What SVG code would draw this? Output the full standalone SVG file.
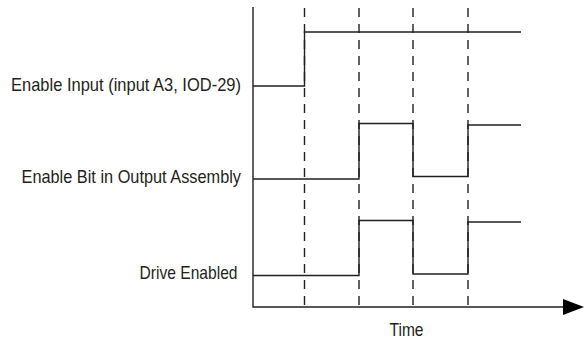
<svg xmlns="http://www.w3.org/2000/svg" width="584" height="341" viewBox="0 0 584 341">
<style>
.t{font-family:"Liberation Sans",Arial,sans-serif;font-size:19px;fill:#231f20}
.s{fill:none;stroke:#231f20;stroke-width:1.4}
.d{fill:none;stroke:#231f20;stroke-width:1.4;stroke-dasharray:9 7}
</style>
<rect width="584" height="341" fill="#fff"/>
<g id="axes">
<path class="s" d="M253,7 V307 H566"/>
<polygon points="563,299 584,307 563,315" fill="#000"/>
</g>
<g id="connectors">
<path class="d" d="M304.5,8 V305"/>
<path class="d" d="M359,8 V305"/>
<path class="d" d="M413,8 V305"/>
<path class="d" d="M468,8 V305"/>
</g>
<g id="enable-input">
<path class="s" d="M253,86 H304.5 V32 H521"/>
<text class="t" x="11" y="91" textLength="230" lengthAdjust="spacingAndGlyphs">Enable Input (input A3, IOD-29)</text>
</g>
<g id="enable-bit">
<path class="s" d="M253,179 H359 V123.5 H413 V176.5 H468 V125 H521"/>
<text class="t" x="21.5" y="182.5" textLength="219.5" lengthAdjust="spacingAndGlyphs">Enable Bit in Output Assembly</text>
</g>
<g id="drive-enabled">
<path class="s" d="M253,275.5 H359 V220.5 H413 V274 H468 V222 H521"/>
<text class="t" x="139.5" y="278.5" textLength="98" lengthAdjust="spacingAndGlyphs">Drive Enabled</text>
</g>
<g id="time-label">
<text class="t" x="389.5" y="336" textLength="34" lengthAdjust="spacingAndGlyphs">Time</text>
</g>
</svg>
